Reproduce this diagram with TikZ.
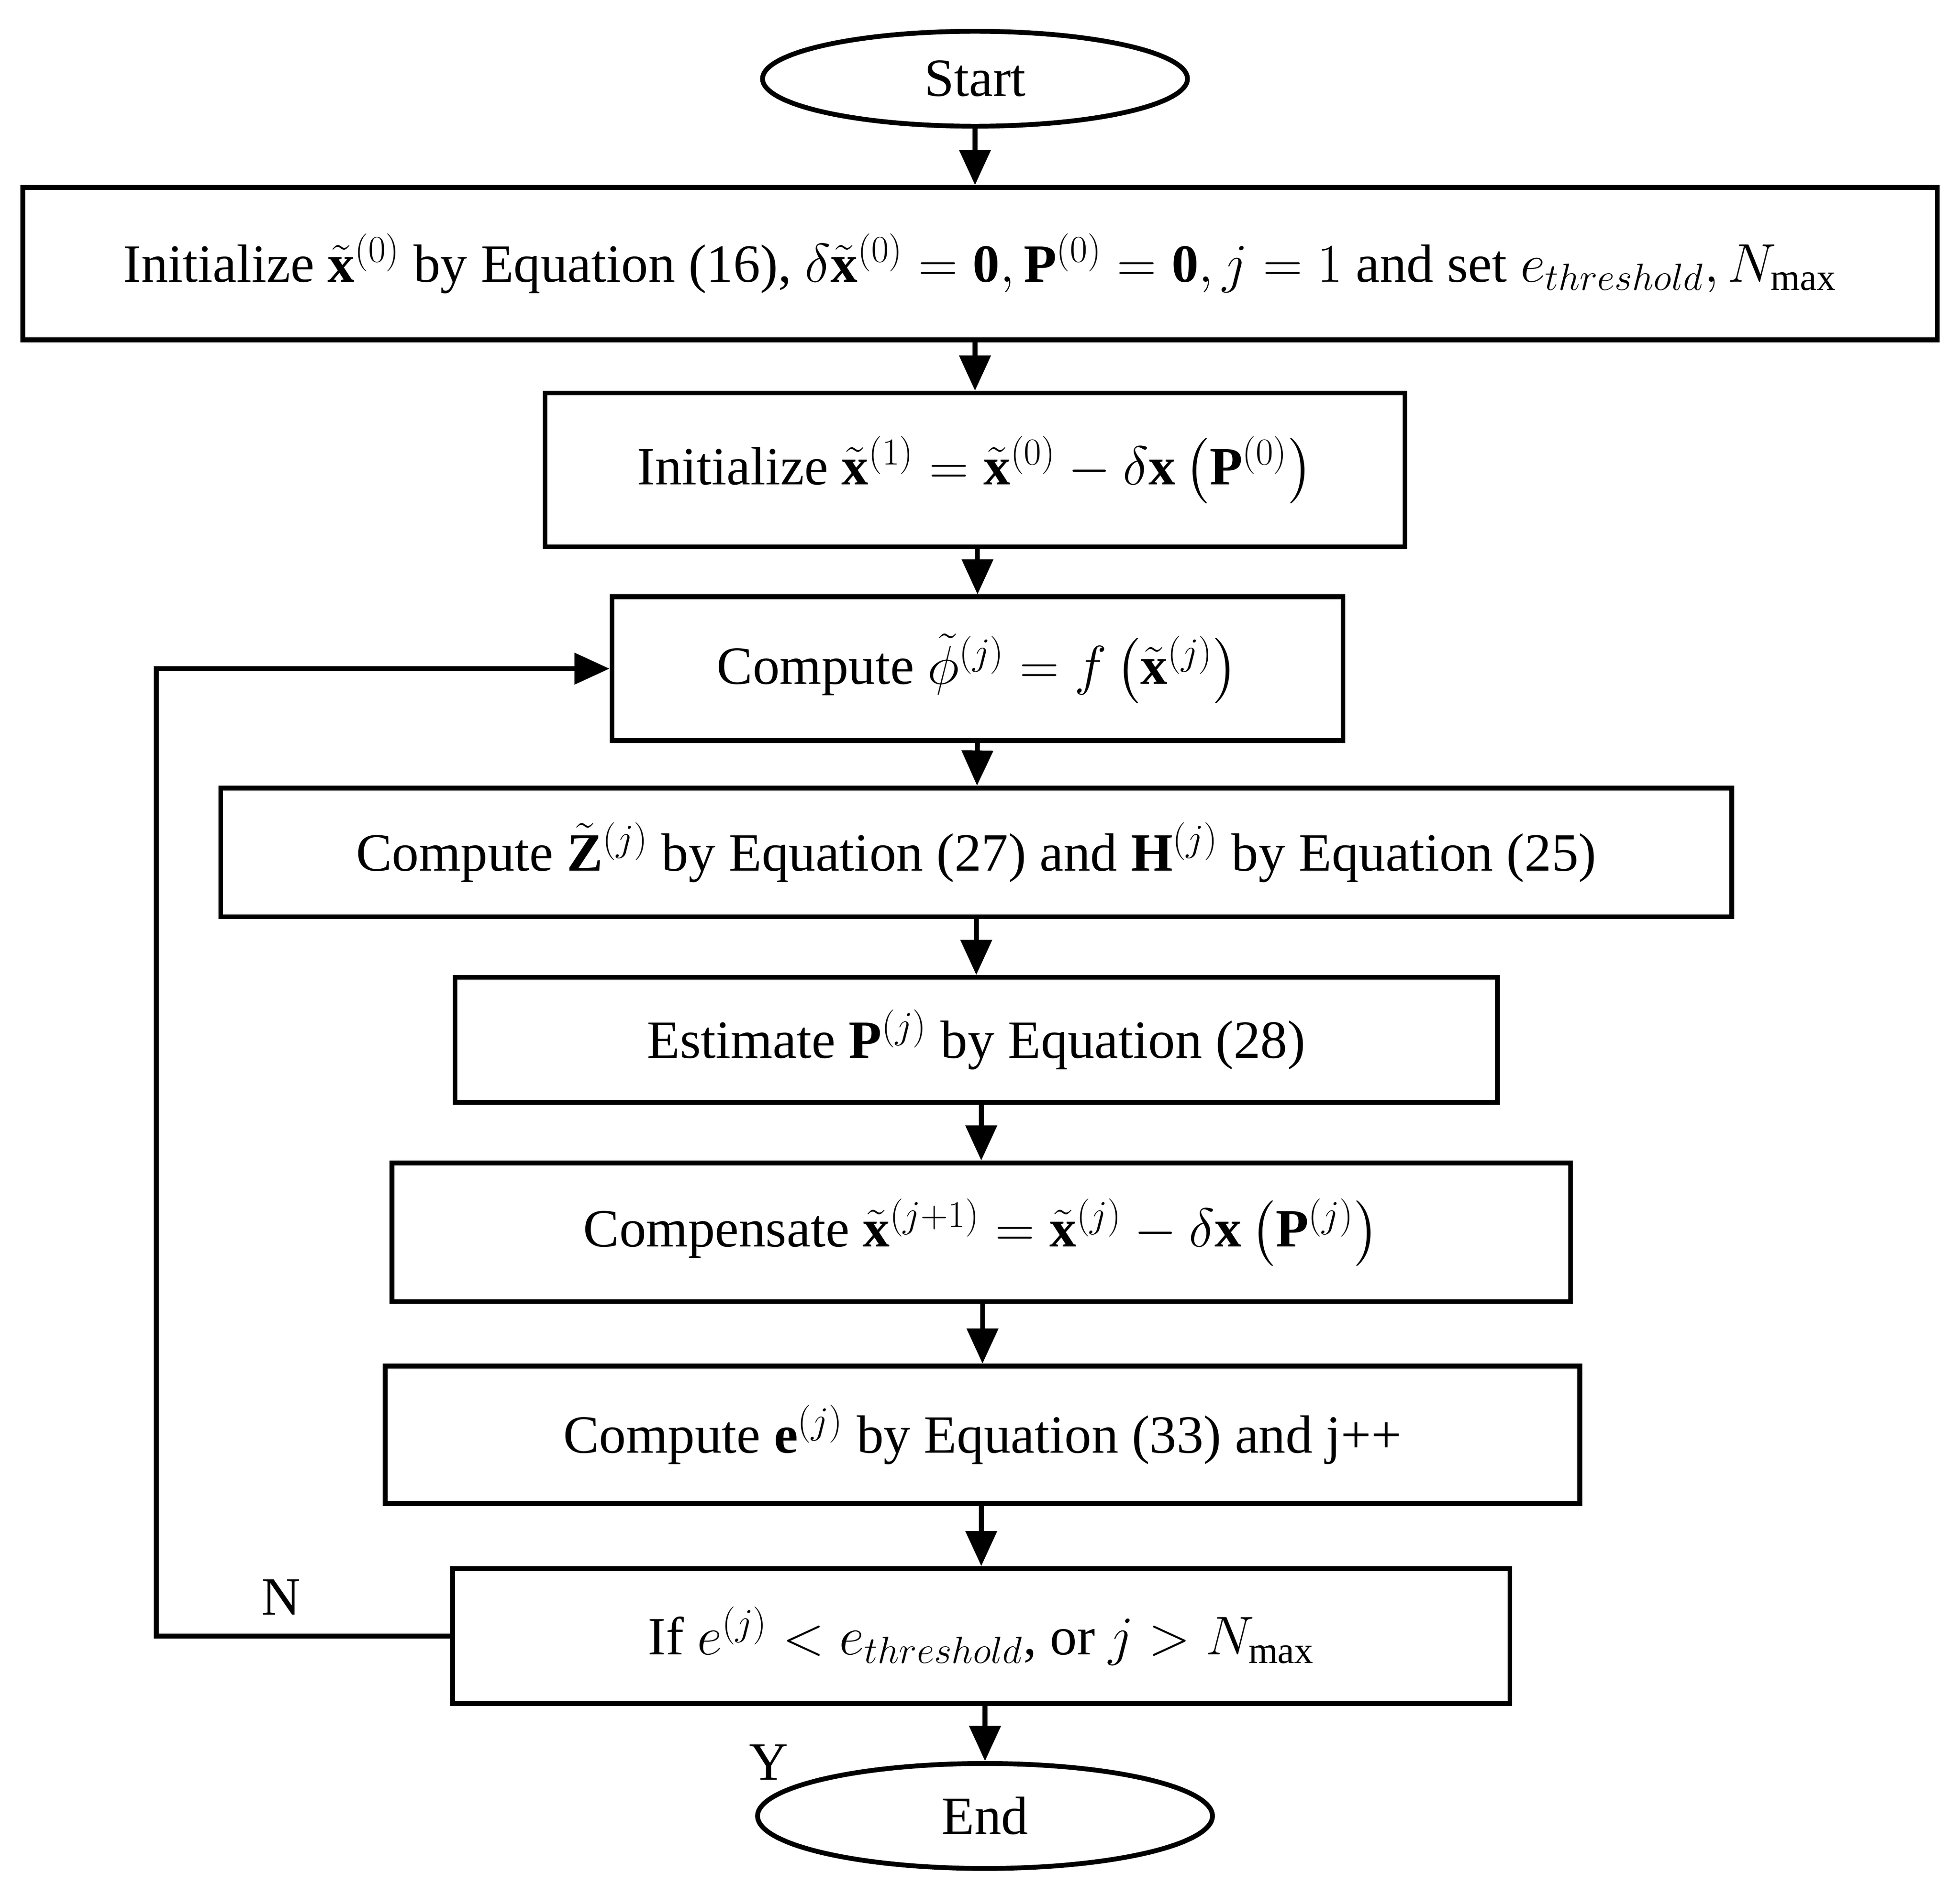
\documentclass[tikz,border=0pt]{standalone}
\usepackage{fontspec}
\setmainfont{Liberation Serif}
\usepackage{amsmath}
\usetikzlibrary{shapes.geometric,arrows.meta}
\begin{document}
\begin{tikzpicture}[x=0.02cm,y=-0.02cm,
  box/.style={draw,line width=2.2pt,inner sep=0pt},
  el/.style={draw,ellipse,line width=2.2pt,inner sep=0pt},
  arr/.style={line width=2.2pt,-{Triangle[length=16pt,width=14pt]}},
  font=\fontsize{24.5}{29}\selectfont]
\useasboundingbox (0,0) rectangle (1568,1516);
\node[el,minimum width=6.8cm,minimum height=1.52cm] (start) at (780,63) {Start};
\node[box,minimum width=30.64cm,minimum height=2.44cm] (b1) at (784,211) {Initialize $\tilde{\mathbf{x}}^{(0)}$ by Equation (16), $\delta\tilde{\mathbf{x}}^{(0)}=\mathbf{0},\mathbf{P}^{(0)}=\mathbf{0}, j=1$ and set $e_{threshold}, N_{\max}$};
\node[box,minimum width=13.76cm,minimum height=2.46cm] (b2) at (780,376) {Initialize $\tilde{\mathbf{x}}^{(1)}=\tilde{\mathbf{x}}^{(0)}-\delta\mathbf{x}\left(\mathbf{P}^{(0)}\right)$};
\node[box,minimum width=11.7cm,minimum height=2.3cm] (b3) at (782,535) {Compute $\tilde{\phi}^{(j)}=f\left(\tilde{\mathbf{x}}^{(j)}\right)$};
\node[box,minimum width=24.18cm,minimum height=2.06cm] (b4) at (781,682) {Compute $\tilde{\mathbf{Z}}^{(j)}$ by Equation (27) and $\mathbf{H}^{(j)}$ by Equation (25)};
\node[box,minimum width=16.68cm,minimum height=2cm] (b5) at (781,832) {Estimate $\mathbf{P}^{(j)}$ by Equation (28)};
\node[box,minimum width=18.86cm,minimum height=2.22cm] (b6) at (785,986) {Compensate $\tilde{\mathbf{x}}^{(j+1)}=\tilde{\mathbf{x}}^{(j)}-\delta\mathbf{x}\left(\mathbf{P}^{(j)}\right)$};
\node[box,minimum width=19.12cm,minimum height=2.2cm] (b7) at (786,1148) {Compute $\mathbf{e}^{(j)}$ by Equation (33) and j++};
\node[box,minimum width=16.92cm,minimum height=2.16cm] (b8) at (785,1309) {If $e^{(j)}<e_{threshold}$, or $j>N_{\max}$};
\node[el,minimum width=7.28cm,minimum height=1.68cm] (end) at (788,1453) {End};
\draw[arr] (start) -- (start|-b1.north);
\draw[arr] (b1.south-|b2) -- (b2);
\draw[arr] (b2.south-|b3) -- (b3);
\draw[arr] (b3.south) -- (b4);
\draw[arr] (b4.south) -- (b5);
\draw[arr] (b5.south-|b6) -- (b6);
\draw[arr] (b6.south-|b7) -- (b7);
\draw[arr] (b7.south-|b8) -- (b8);
\draw[arr] (b8.south-|end) -- (end);
\coordinate (c1) at (125,1309);
\coordinate (c2) at (125,535);
\draw[arr] (b8.west) -- (c1) -- (c2) -- (b3.west);
\node (n) at (225,1278) {N};
\node (y) at (615,1410) {Y};
\end{tikzpicture}
\end{document}
